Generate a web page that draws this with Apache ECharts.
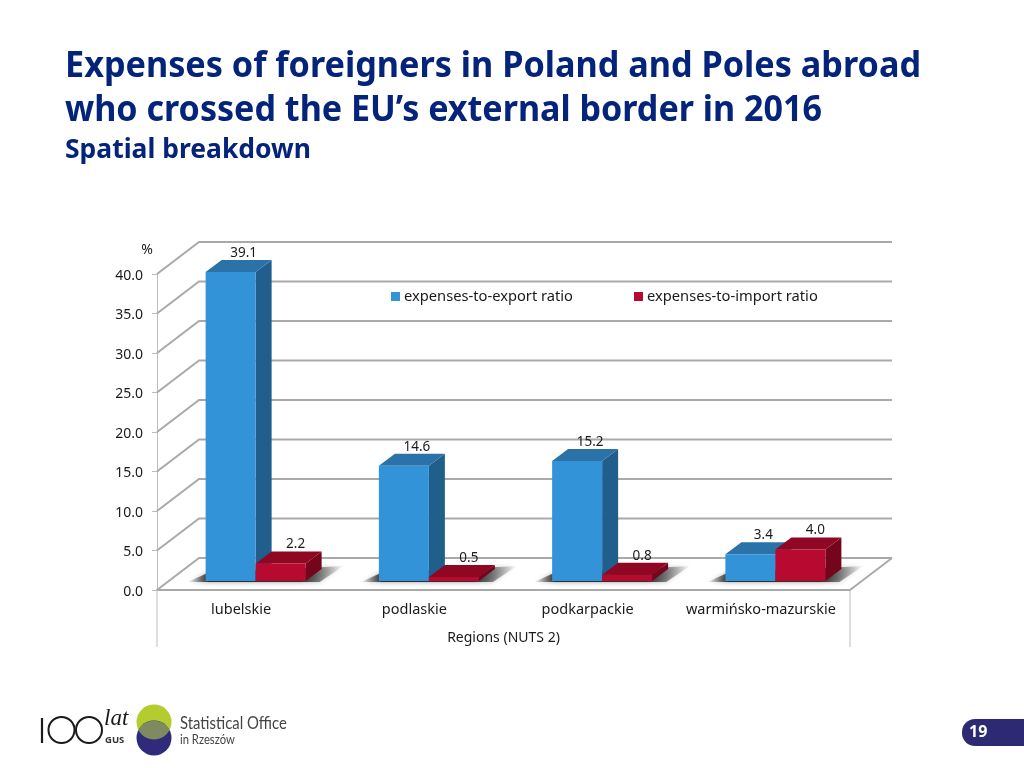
<!DOCTYPE html>
<html><head><meta charset="utf-8">
<style>html,body{margin:0;padding:0;background:#fff}#c{width:1024px;height:768px}</style>
<script src="https://cdn.jsdelivr.net/npm/echarts@6/dist/echarts.min.js"></script>
</head><body><div id="c"></div>
<script>
const categories = ['lubelskie','podlaskie','podkarpackie','warmińsko-mazurskie'];
const exportRatio = [39.1,14.6,15.2,3.4];
const importRatio = [2.2,0.5,0.8,4.0];
const yTicks = [0,5,10,15,20,25,30,35,40];
const seriesNames = ['expenses-to-export ratio','expenses-to-import ratio'];
const FONT='"Noto Sans"', INK='#1a1a1a', GRID='#a9a9a9', NAVY='#04237a';
const WALL=[42,-32], BASE=[12,-9], DEPTH=[16,-12], BARW=50;

function wallItem(params,api){
  const s=params.coordSys, v=api.value(1), p=api.coord([0,v]);
  const L=s.x, R=s.x+s.width, y=p[1];
  const st={stroke:GRID,lineWidth:2,fill:'none'};
  const kids=[{type:'polyline',shape:{points:[[L,y],[L+WALL[0],y+WALL[1]],[R+WALL[0],y+WALL[1]]]},style:st}];
  if(v===0){
    kids.push({type:'line',shape:{x1:R+WALL[0],y1:y+WALL[1],x2:R,y2:y},style:st});
    kids.push({type:'line',shape:{x1:L,y1:y,x2:L,y2:y+57},style:{stroke:'#bdbdbd',lineWidth:1}});
    kids.push({type:'line',shape:{x1:R,y1:y,x2:R,y2:y+57},style:{stroke:'#bdbdbd',lineWidth:1}});
  }
  return {type:'group',children:kids};
}
function shadowItem(params,api){
  const c=api.coord([api.value(0),0]), cx=c[0]+BASE[0], y=c[1]+BASE[1];
  const fade=new echarts.graphic.LinearGradient(0,0,1,0,[
    {offset:0,color:'rgba(40,40,40,0)'},{offset:0.14,color:'rgba(40,40,40,0.95)'},
    {offset:0.72,color:'rgba(40,40,40,0.95)'},{offset:1,color:'rgba(40,40,40,0)'}]);
  return {type:'polygon',shape:{points:[[cx-BARW-18,y+1],[cx-BARW+2,y-8],[cx+BARW+38,y-15],[cx+BARW+14,y+1]]},
    style:{fill:fade,shadowBlur:5,shadowColor:'rgba(40,40,40,0.5)'}};
}
function barItem(idx,front,top,side,labelDx){
  return function(params,api){
    const cat=api.value(0), v=api.value(1);
    const b=api.coord([cat,0]), t=api.coord([cat,v]);
    const cx=b[0]+BASE[0];
    const x0=cx+(idx-1)*BARW, x1=x0+BARW;
    const yb=b[1]+BASE[1], yt=t[1]+BASE[1];
    const dx=DEPTH[0], dy=DEPTH[1];
    return {type:'group',children:[
      {type:'polygon',shape:{points:[[x1,yb],[x1+dx,yb+dy],[x1+dx,yt+dy],[x1,yt]]},style:{fill:side}},
      {type:'polygon',shape:{points:[[x0,yt],[x0+dx,yt+dy],[x1+dx,yt+dy],[x1,yt]]},style:{fill:top}},
      {type:'rect',shape:{x:x0,y:yt,width:BARW,height:yb-yt},style:{fill:front}},
      {type:'text',x:(x0+x1)/2+labelDx,y:yt+dy-7,style:{text:v.toFixed(1),font:'13.5px '+FONT,fill:INK,align:'center',verticalAlign:'middle'}}
    ]};
  };
}
function lens(cx,cy1,cy2,r){
  const pts=[], h=(cy2-cy1)/2, a=Math.acos(h/r);
  for(let i=0;i<=16;i++){const t=-a+2*a*i/16; pts.push([cx+r*Math.sin(t),cy2-r*Math.cos(t)]);}
  for(let i=0;i<=16;i++){const t=a-2*a*i/16; pts.push([cx+r*Math.sin(t),cy1+r*Math.cos(t)]);}
  return pts;
}
const mctx=document.createElement('canvas').getContext('2d');
function fitted(text,font,width,x,y){
  mctx.font=font;
  return {type:'text',x:x,y:y,scaleX:width/mctx.measureText(text).width,style:{text:text,font:font,fill:NAVY,verticalAlign:'middle'}};
}
const TF='bold 35px "Noto Sans"', SF='bold 26.5px "Noto Sans"';
const catIdx=categories.map((_,i)=>i);
const option={
  animation:false,
  textStyle:{fontFamily:FONT},
  grid:{left:157,right:174,top:274,bottom:178,containLabel:false},
  legend:{left:386,top:284,itemWidth:9,itemHeight:9,itemGap:61,icon:'rect',selectedMode:false,
    data:seriesNames,textStyle:{fontSize:14.7,color:INK,fontFamily:FONT,padding:[0,0,0,-1]}},
  xAxis:{type:'category',data:categories,
    axisLine:{lineStyle:{color:GRID,width:2}},
    axisTick:{length:28,lineStyle:{color:'#bdbdbd',width:1}},
    axisLabel:{interval:0,fontSize:14.5,color:INK,fontFamily:FONT,margin:12,padding:[0,5,0,0]},
    name:'Regions (NUTS 2)',nameLocation:'middle',nameGap:41,nameTextStyle:{fontSize:14,color:INK,fontFamily:FONT}},
  yAxis:{type:'value',min:0,max:40,interval:5,
    axisLine:{show:true,lineStyle:{color:'#bdbdbd',width:1}},
    axisTick:{show:true,length:5,lineStyle:{color:'#bdbdbd'}},
    splitLine:{show:false},
    axisLabel:{fontSize:14,color:INK,fontFamily:FONT,margin:14,verticalAlign:'top',lineHeight:4,formatter:v=>v.toFixed(1)},
    name:'%',nameLocation:'end',nameGap:17,nameTextStyle:{fontSize:14,color:INK,fontFamily:FONT,padding:[0,20,0,0]}},
  series:[
    {type:'custom',name:'walls',silent:true,renderItem:wallItem,data:yTicks.map(v=>[0,v]),encode:{x:0,y:1},z:1},
    {type:'custom',name:'shadows',silent:true,renderItem:shadowItem,data:catIdx.map(i=>[i,0]),encode:{x:0,y:1},z:2},
    {type:'custom',name:seriesNames[0],silent:true,itemStyle:{color:'#3393d8'},
      renderItem:barItem(0,'#3393d8','#2a72a8','#205f8c',13),data:exportRatio.map((v,i)=>[i,v]),encode:{x:0,y:1},z:3},
    {type:'custom',name:seriesNames[1],silent:true,itemStyle:{color:'#b80a30'},
      renderItem:barItem(1,'#b80a30','#8f0722','#75051c',15),data:importRatio.map((v,i)=>[i,v]),encode:{x:0,y:1},z:4}
  ],
  graphic:[
    fitted('Expenses of foreigners in Poland and Poles abroad',TF,856,65,67),
    fitted('who crossed the EU’s external border in 2016',TF,757,65,111),
    fitted('Spatial breakdown',SF,246,65,150),
    // 100 lat GUS mark
    {type:'line',shape:{x1:42,y1:718,x2:42,y2:743},style:{stroke:'#1a1a1a',lineWidth:2.2}},
    {type:'circle',shape:{cx:61.5,cy:730,r:13},style:{fill:'none',stroke:'#1a1a1a',lineWidth:2}},
    {type:'circle',shape:{cx:89,cy:730,r:13},style:{fill:'none',stroke:'#1a1a1a',lineWidth:2}},
    {type:'text',x:104,y:707,style:{text:'lat',font:'italic 23px "Liberation Serif"',fill:'#1a1a1a'}},
    {type:'text',x:105,y:735,style:{text:'GUS',font:'bold 9.5px '+FONT,fill:'#333'}},
    // Office mark
    {type:'circle',shape:{cx:154,cy:722,r:17.5},style:{fill:'#b4cc2d'}},
    {type:'circle',shape:{cx:154,cy:738,r:17.5},style:{fill:'#2f2b7a'}},
    {type:'polygon',shape:{points:lens(154,722,738,17.5)},style:{fill:'#7f8a60'}},
    {type:'text',x:180,y:715,scaleX:0.875,style:{text:'Statistical Office',font:'17px Lato',fill:'#444'}},
    {type:'text',x:180,y:733,scaleX:0.9,style:{text:'in Rzeszów',font:'12.5px Lato',fill:'#444'}},
    // page badge
    {type:'rect',shape:{x:962,y:719,width:80,height:27,r:13},style:{fill:'#2d2a73'}},
    {type:'text',x:969,y:724,style:{text:'19',font:'bold 16px '+FONT,fill:'#fff'}}
  ]
};
echarts.init(document.getElementById('c')).setOption(option);
</script></body></html>
